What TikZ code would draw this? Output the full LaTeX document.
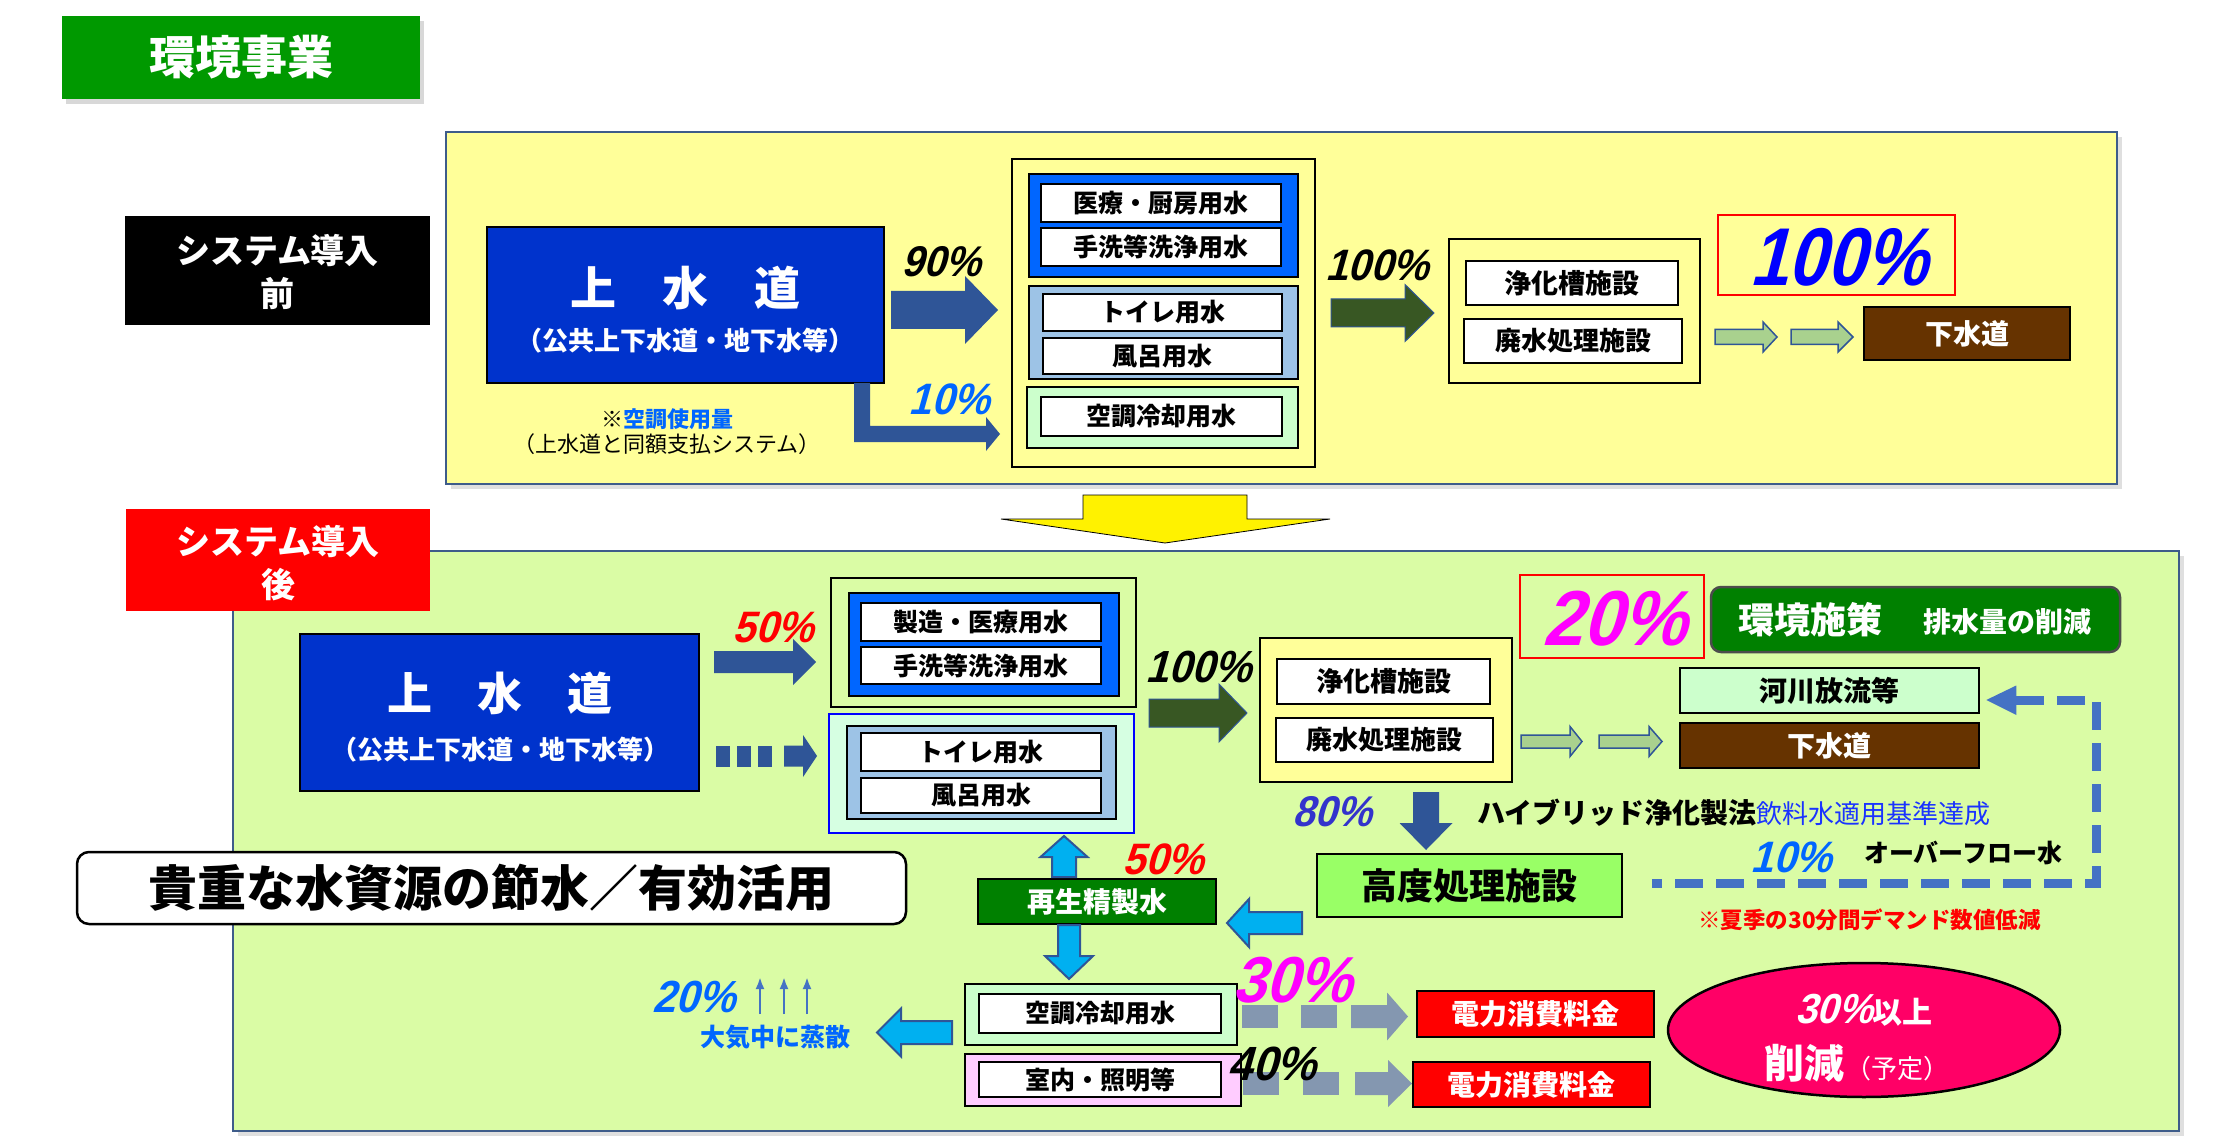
\documentclass[tikz,border=0pt]{standalone}
\usepackage{fontspec}
\setmainfont{Noto Sans CJK JP}
\newfontfamily\jp{Noto Sans CJK JP}[BoldFont={Noto Sans CJK JP Black}]
\newfontfamily\pctf[FakeSlant=0.28,FakeStretch=0.92]{Liberation Sans}
\usetikzlibrary{shadows,shapes.geometric,calc,arrows.meta}
\newcommand\fz[1]{\fontsize{#1}{#1}\selectfont}
\definecolor{cTitle}{HTML}{009900}
\definecolor{cYel}{HTML}{FFFF99}
\definecolor{cPanelB}{HTML}{3E5C8A}
\definecolor{cSrc}{HTML}{0033CC}
\definecolor{cArrB}{HTML}{2F5597}
\definecolor{cArrG}{HTML}{385723}
\definecolor{cBlueG}{HTML}{0066FF}
\definecolor{cLBlue}{HTML}{9DC3E6}
\definecolor{cLGreen}{HTML}{CCFFCC}
\definecolor{cBrown}{HTML}{663300}
\definecolor{cLGArr}{HTML}{A9D18E}
\definecolor{cPanel2}{HTML}{DAFCA5}
\definecolor{cMint}{HTML}{D6FFE2}
\definecolor{cEnv}{HTML}{008000}
\definecolor{cHigh}{HTML}{99FF66}
\definecolor{cCyan}{HTML}{00B0F0}
\definecolor{cGray}{HTML}{8497B0}
\definecolor{cPinkG}{HTML}{FFCCFF}
\definecolor{cEll}{HTML}{FF0066}
\definecolor{cDash}{HTML}{4472C4}
\definecolor{cPurp}{HTML}{3333CC}
\definecolor{cPctB}{HTML}{0066FF}
\definecolor{cMag}{HTML}{FF00FF}
\definecolor{cBlueT}{HTML}{1A33FF}
\newcommand\harrow[7]{\path[#1] (#2,{#5-#6}) -- (#3,{#5-#6}) -- (#3,{#5-#7}) -- (#4,#5) -- (#3,{#5+#7}) -- (#3,{#5+#6}) -- (#2,{#5+#6}) -- cycle;}
\newcommand\varrow[7]{\path[#1] ({#5-#6},#2) -- ({#5-#6},#3) -- ({#5-#7},#3) -- (#5,#4) -- ({#5+#7},#3) -- ({#5+#6},#3) -- ({#5+#6},#2) -- cycle;}
\tikzset{
  wbox/.style={draw=black, line width=2.5pt, fill=white, inner sep=0pt, outer sep=0pt, font=\jp\bfseries\fz{25}},
  grpbox/.style={draw=black, line width=2.5pt, inner sep=0pt, outer sep=0pt},
  pct/.style={inner sep=0pt, font=\pctf\bfseries\fz{44}},
  txt/.style={inner sep=0pt},
  panel/.style={draw=cPanelB, line width=2pt, inner sep=0pt, drop shadow={opacity=0.25, shadow xshift=5pt, shadow yshift=-5pt}},
  darr/.style={fill=cArrB},
  garr/.style={fill=cArrG, draw=cArrB, line width=1pt},
  lgarr/.style={fill=cLGArr, draw=cArrB, line width=1.5pt},
  cyarr/.style={fill=cCyan, draw=cArrB, line width=2pt},
  grarr/.style={fill=cGray},
}
\begin{document}
\begin{tikzpicture}[x=1pt,y=-1pt]
\useasboundingbox (0,0) rectangle (2225,1147);
\fill[white] (0,0) rectangle (2225,1147);

% ---------- title ----------
\node[fill=cTitle, minimum width=358pt, minimum height=83pt, inner sep=0pt, text=white, font=\jp\bfseries\fz{46}, drop shadow={opacity=0.3, shadow xshift=4pt, shadow yshift=-5pt}] (title) at (241,57.5) {環境事業};

% ---------- before ----------
\node[fill=black, minimum width=305pt, minimum height=109pt, inner sep=0pt] (before) at (277.5,270.5) {};
\node[txt, text=white, font=\jp\bfseries\fz{34}] (beforeA) at (277.5,251) {システム導入};
\node[txt, text=white, font=\jp\bfseries\fz{34}] (beforeB) at (277.5,294) {前};

\node[panel, fill=cYel, minimum width=1671pt, minimum height=352pt] (panel1) at (1281.5,308) {};

% source
\node[draw=black, line width=2.5pt, fill=cSrc, minimum width=397pt, minimum height=156pt, inner sep=0pt] (src1) at (685.5,305) {};
\node[txt, text=white, font=\jp\bfseries\fz{46}] (src1a) at (685,288) {上　水　道};
\node[txt, text=white, font=\jp\bfseries\fz{26}] (src1b) at (685,341) {（公共上下水道・地下水等）};

% 90% arrow
\harrow{darr}{891}{965}{998}{310}{19}{34}
\node[pct, font=\pctf\bfseries\fz{43}] (p90) at (941,262) {90\%};
% 10% elbow arrow
\path[darr] (854,383) -- (870,383) -- (870,426) -- (986,426) -- (986,417) -- (1000,434) -- (986,451) -- (986,442) -- (854,442) -- cycle;
\node[pct, text=cPctB] (p10a) at (949,399) {10\%};
\node[txt, font=\jp\bfseries\fz{22}] (note1) at (667,419) {※\textcolor{cBlueG}{空調使用量}};
\node[txt, font=\jp\fz{22}] (note2) at (667,444) {（上水道と同額支払システム）};

% uses group
\node[grpbox, fill=cYel, minimum width=303pt, minimum height=308pt] (grp1) at (1163.5,313) {};
\node[grpbox, fill=cBlueG, minimum width=269pt, minimum height=103pt] (g1blue) at (1163.5,225.5) {};
\node[wbox, minimum width=240pt, minimum height=38pt] (t1a) at (1161,203) {医療・厨房用水};
\node[wbox, minimum width=240pt, minimum height=38pt] (t1b) at (1161,247) {手洗等洗浄用水};
\node[grpbox, fill=cLBlue, minimum width=269pt, minimum height=93pt] (g1lb) at (1163.5,332.5) {};
\node[wbox, minimum width=239pt, minimum height=37pt] (t1c) at (1162.5,312.5) {トイレ用水};
\node[wbox, minimum width=239pt, minimum height=36pt] (t1d) at (1162.5,356) {風呂用水};
\node[grpbox, fill=cLGreen, minimum width=271pt, minimum height=61pt] (g1lg) at (1162.5,417.5) {};
\node[wbox, minimum width=241pt, minimum height=39pt] (t1e) at (1161.5,416.5) {空調冷却用水};

% 100% arrow
\harrow{garr}{1331}{1405}{1434}{313}{14}{28.5}
\node[pct] (p100a) at (1377,265) {100\%};

% treatment
\node[grpbox, fill=cYel, minimum width=251pt, minimum height=144pt] (treat1) at (1574.5,311) {};
\node[wbox, font=\jp\bfseries\fz{27}, minimum width=212pt, minimum height=44pt] (t1f) at (1572,283) {浄化槽施設};
\node[wbox, font=\jp\bfseries\fz{26}, minimum width=218pt, minimum height=44pt] (t1g) at (1573,341) {廃水処理施設};

\node[draw=red, line width=2pt, minimum width=237pt, minimum height=80pt, inner sep=0pt] (big100) at (1836.5,255) {};
\node[txt, text=blue, font=\pctf\bfseries\fz{82}, xscale=0.92] (big100t) at (1838,257) {100\%};

\harrow{lgarr}{1715}{1763}{1777}{337}{7.5}{15}
\harrow{lgarr}{1791}{1838}{1853}{337}{7.5}{15}
\node[draw=black, line width=2.5pt, fill=cBrown, minimum width=206pt, minimum height=53pt, inner sep=0pt, text=white, font=\jp\bfseries\fz{28}] (sewer1) at (1967,333.5) {下水道};

% big yellow arrow
\path[fill=yellow, draw=black, line width=0.8pt] (1083,495) -- (1247,495) -- (1247,519) -- (1330,519) -- (1165,543) -- (1001,519) -- (1083,519) -- cycle;

% ---------- after ----------
\node[panel, fill=cPanel2, minimum width=1946pt, minimum height=580pt] (panel2) at (1206,841) {};
\node[fill=red, minimum width=304pt, minimum height=102pt, inner sep=0pt] (after) at (278,560) {};
\node[txt, text=white, font=\jp\bfseries\fz{34}] (afterA) at (278,542) {システム導入};
\node[txt, text=white, font=\jp\bfseries\fz{34}] (afterB) at (278,585) {後};

\node[draw=black, line width=2.5pt, fill=cSrc, minimum width=399pt, minimum height=157pt, inner sep=0pt] (src2) at (499.5,712.5) {};
\node[txt, text=white, font=\jp\bfseries\fz{45}] (src2a) at (500,693) {上　水　道};
\node[txt, text=white, font=\jp\bfseries\fz{26}] (src2b) at (500,750) {（公共上下水道・地下水等）};

% 50% arrow and dashed arrow
\harrow{darr}{714}{793}{816}{662}{11}{23}
\node[pct, text=red] (p50a) at (773,627) {50\%};
\fill[cArrB] (716,745.5) rectangle (730,766.5);
\fill[cArrB] (737,745.5) rectangle (751,766.5);
\fill[cArrB] (758,745.5) rectangle (772,766.5);
\harrow{darr}{784}{803}{817}{756}{10.5}{21}

% uses group after
\node[grpbox, fill=cPanel2, minimum width=305pt, minimum height=129pt] (grp2a) at (983.5,642.5) {};
\node[grpbox, fill=cBlueG, minimum width=270pt, minimum height=103pt] (g2blue) at (984,644.5) {};
\node[wbox, minimum width=240pt, minimum height=38pt] (t2a) at (981,622) {製造・医療用水};
\node[wbox, minimum width=240pt, minimum height=37pt] (t2b) at (981,665.5) {手洗等洗浄用水};
\node[draw=blue, line width=2pt, fill=cMint, minimum width=305pt, minimum height=119pt, inner sep=0pt] (grp2b) at (981.5,773.5) {};
\node[grpbox, fill=cLBlue, minimum width=269pt, minimum height=93pt] (g2lb) at (981.5,772.5) {};
\node[wbox, minimum width=240pt, minimum height=38pt] (t2c) at (981,752) {トイレ用水};
\node[wbox, minimum width=240pt, minimum height=35pt] (t2d) at (981,795.5) {風呂用水};

% 100% arrow after
\harrow{garr}{1149}{1219}{1247}{713}{14}{29}
\node[pct, font=\pctf\bfseries\fz{45}] (p100b) at (1198,667) {100\%};

\node[grpbox, fill=cYel, minimum width=252pt, minimum height=144pt] (treat2) at (1386,710) {};
\node[wbox, font=\jp\bfseries\fz{27}, minimum width=213pt, minimum height=45pt] (t2e) at (1383.5,681.5) {浄化槽施設};
\node[wbox, font=\jp\bfseries\fz{26}, minimum width=217pt, minimum height=44pt] (t2f) at (1384.5,740) {廃水処理施設};

\harrow{lgarr}{1521}{1570}{1582}{741.5}{6.5}{15}
\harrow{lgarr}{1599}{1649}{1662}{741.5}{6.5}{15}

\node[draw=red, line width=2pt, minimum width=184pt, minimum height=83pt, inner sep=0pt] (big20) at (1612,616.5) {};
\node[txt, text=cMag, font=\pctf\bfseries\fz{78}] (big20t) at (1614,619) {20\%};

\node[draw=black!70, line width=2.5pt, fill=cEnv, rounded corners=10pt, minimum width=409pt, minimum height=65pt, inner sep=0pt] (env) at (1915.5,619.5) {};
\node[txt, text=white, font=\jp\bfseries\fz{36}] (envA) at (1810,620) {環境施策};
\node[txt, text=white, font=\jp\bfseries\fz{28}] (envB) at (2007,622) {排水量の削減};

\node[draw=black, line width=2.5pt, fill=cLGreen, minimum width=299pt, minimum height=45pt, inner sep=0pt, font=\jp\bfseries\fz{28}] (river) at (1829.5,690.5) {河川放流等};
\node[draw=black, line width=2.5pt, fill=cBrown, minimum width=299pt, minimum height=45pt, inner sep=0pt, text=white, font=\jp\bfseries\fz{28}] (sewer2) at (1829.5,745.5) {下水道};

% 80% and high treatment
\varrow{darr}{792}{823}{850}{1426}{13}{26.5}
\node[pct, text=cPurp, font=\pctf\bfseries\fz{43}] (p80) at (1332,812) {80\%};
\node[txt, anchor=west] (hyb) at (1477,813) {{\jp\bfseries\fz{28}ハイブリッド浄化製法}{\jp\fz{26}\color{cBlueT}飲料水適用基準達成}};
\node[draw=black, line width=2.5pt, fill=cHigh, minimum width=305pt, minimum height=63pt, inner sep=0pt, font=\jp\bfseries\fz{36}] (high) at (1469.5,885.5) {高度処理施設};

% overflow dashed
\coordinate (ovHead) at ($(river.east)+(36,9.5)$);
\coordinate (ovTR) at (2096,700);
\coordinate (ovBR) at (2096,883);
\coordinate (ovEnd) at (1652,883);
\draw[cDash, line width=9pt, dash pattern=on 28pt off 13pt] (ovHead) -- (ovTR) -- (ovBR) -- (ovEnd);
\fill[cDash] ($(river.east)+(6,9.5)$) -- ($(river.east)+(36,-5)$) -- ($(river.east)+(36,24.5)$) -- cycle;
\node[pct, text=cPctB] (p10b) at (1791,857) {10\%};
\node[txt, anchor=west, font=\jp\bfseries\fz{25}] (ovf) at (1864,853) {オーバーフロー水};
\node[txt, text=red, font=\jp\bfseries\fz{22.5}] (summer) at (1869.5,920) {※夏季の30分間デマンド数値低減};

% recycled water
\node[draw=black, line width=2.5pt, fill=cEnv, minimum width=238pt, minimum height=45pt, inner sep=0pt, text=white, font=\jp\bfseries\fz{28}] (recyc) at (1097,901.5) {再生精製水};
\varrow{cyarr}{877}{857}{836}{1064}{12}{23.5}
\node[pct, text=red] (p50b) at (1163,859) {50\%};
\harrow{cyarr}{1302}{1249}{1227}{923}{11}{24}
\varrow{cyarr}{925}{956}{979}{1069}{11}{24}

\node[grpbox, fill=cLGreen, minimum width=272pt, minimum height=61pt] (grp2d) at (1101,1014.5) {};
\node[wbox, minimum width=242pt, minimum height=39pt] (t2g) at (1100,1013.5) {空調冷却用水};
\node[grpbox, fill=cPinkG, minimum width=276pt, minimum height=52pt] (grp2e) at (1103,1080) {};
\node[wbox, minimum width=242pt, minimum height=35pt] (t2h) at (1100,1079.5) {室内・照明等};

% evaporation
\harrow{cyarr}{952}{901}{877}{1032.5}{11.5}{24}
\node[txt, text=cBlueG, font=\jp\bfseries\fz{25}] (evap) at (775.5,1037) {大気中に蒸散};
\node[pct, text=cPctB, font=\pctf\bfseries\fz{45}] (p20) at (694,997) {20\%};
\foreach \xx/\nm in {760/ua,784/ub,807/uc}{
  \coordinate (\nm0) at (\xx,1014);
  \coordinate (\nm1) at (\xx,977);
  \draw[cDash, line width=2.5pt, -{Latex[length=12pt,width=9pt]}] (\nm0) -- (\nm1);
}

% gray dashed arrows
\fill[cGray] (1242,1005) rectangle (1278,1028);
\fill[cGray] (1301,1005) rectangle (1337,1028);
\harrow{grarr}{1351}{1387}{1408}{1016.5}{11.5}{24}
\fill[cGray] (1243,1072) rectangle (1279,1095);
\fill[cGray] (1303,1072) rectangle (1339,1095);
\harrow{grarr}{1355}{1388}{1412}{1083.5}{11.5}{23.5}
\node[pct, text=cMag, font=\pctf\bfseries\fz{65}] (p30) at (1292,980) {30\%};
\node[pct, font=\pctf\bfseries\fz{48}] (p40) at (1272,1064) {40\%};

\node[draw=black, line width=2.5pt, fill=red, minimum width=237pt, minimum height=46pt, inner sep=0pt, text=white, font=\jp\bfseries\fz{28}] (fee1) at (1535.5,1014) {電力消費料金};
\node[draw=black, line width=2.5pt, fill=red, minimum width=237pt, minimum height=45pt, inner sep=0pt, text=white, font=\jp\bfseries\fz{28}] (fee2) at (1531.5,1084.5) {電力消費料金};

\node[ellipse, draw=black, line width=2.5pt, fill=cEll, minimum width=392pt, minimum height=134pt, inner sep=0pt] (ell) at (1864,1030) {};
\node[txt, text=white] (ellA) at (1864,1010) {{\pctf\bfseries\fz{42}30\%}{\jp\bfseries\fz{30}以上}};
\node[txt, text=white] (ellB) at (1857,1063) {{\jp\bfseries\fz{40}削減}\,{\jp\fz{26}（予定）}};

% slogan
\node[draw=black, line width=2.5pt, fill=white, rounded corners=12pt, minimum width=829pt, minimum height=72pt, inner sep=0pt, font=\jp\bfseries\fz{49}] (slogan) at (491.5,888) {貴重な水資源の節水／有効活用};
\end{tikzpicture}
\end{document}
